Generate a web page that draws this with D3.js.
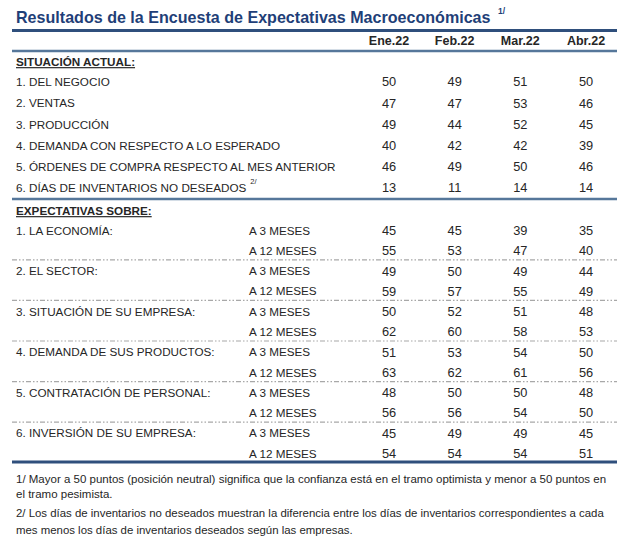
<!DOCTYPE html>
<html>
<head>
<meta charset="utf-8">
<script src="https://cdn.jsdelivr.net/npm/d3@7"></script>
<style>
  html, body { margin: 0; padding: 0; background: #fff; }
  svg { display: block; }
  text { font-family: "Liberation Sans", Arial, sans-serif; }
</style>
</head>
<body>
<script>
// ---------- DATA ----------
const title = "Resultados de la Encuesta de Expectativas Macroeconómicas";
const titleNote = "1/";
const months = ["Ene.22", "Feb.22", "Mar.22", "Abr.22"];

const sectionA = "SITUACIÓN ACTUAL:";
const situacionLabels = [
  "1. DEL NEGOCIO",
  "2. VENTAS",
  "3. PRODUCCIÓN",
  "4. DEMANDA CON RESPECTO A LO ESPERADO",
  "5. ÓRDENES DE COMPRA RESPECTO AL MES ANTERIOR",
  "6. DÍAS DE INVENTARIOS NO DESEADOS"
];
const situacionNotes = ["", "", "", "", "", "2/"];
const situacionValues = [
  [50, 49, 51, 50],
  [47, 47, 53, 46],
  [49, 44, 52, 45],
  [40, 42, 42, 39],
  [46, 49, 50, 46],
  [13, 11, 14, 14]
];

const sectionB = "EXPECTATIVAS SOBRE:";
const expectativasLabels = [
  "1. LA ECONOMÍA:",
  "2. EL SECTOR:",
  "3. SITUACIÓN DE SU EMPRESA:",
  "4. DEMANDA DE SUS PRODUCTOS:",
  "5. CONTRATACIÓN DE PERSONAL:",
  "6. INVERSIÓN DE SU EMPRESA:"
];
const horizons = ["A 3 MESES", "A 12 MESES"];
const expectativas3m = [
  [45, 45, 39, 35],
  [49, 50, 49, 44],
  [50, 52, 51, 48],
  [51, 53, 54, 50],
  [48, 50, 50, 48],
  [45, 49, 49, 45]
];
const expectativas12m = [
  [55, 53, 47, 40],
  [59, 57, 55, 49],
  [62, 60, 58, 53],
  [63, 62, 61, 56],
  [56, 56, 54, 50],
  [54, 54, 54, 51]
];

const footnotes = [
  ["1/ Mayor a 50 puntos (posición neutral) significa que la confianza está en el tramo optimista y menor a 50 puntos en",
   "el tramo pesimista."],
  ["2/ Los días de inventarios no deseados muestran la diferencia entre los días de inventarios correspondientes a cada",
   "mes menos los días de inventarios deseados según las empresas."]
];

// ---------- LAYOUT ----------
const W = 640, H = 553;
const xLeft = 12, xRight = 617, xText = 16, xHorizon = 249;
const navy = "#2f4f7c", midBlue = "#56779a", titleColor = "#1f3f78", ink = "#262626";

const svg = d3.select("body").append("svg").attr("width", W).attr("height", H);
svg.append("rect").attr("width", W).attr("height", H).attr("fill", "#fff");

const x = d3.scalePoint().domain(months).range([389, 586]);
const ySit = d3.scaleLinear().domain([0, 5]).range([82, 188]);
const yExp = d3.scaleLinear().domain([0, 11]).range([230.5, 453.5]);

// Title (fit to measured width)
const t = svg.append("text").attr("x", xText).attr("y", 23)
  .attr("font-weight", "bold").attr("font-size", 15).attr("fill", titleColor).text(title);
const tw = t.node().getComputedTextLength();
const tfs = 15 * 475 / tw;
t.attr("font-size", tfs);
svg.append("text").attr("x", xText + 475 + 7).attr("y", 14)
  .attr("font-size", 8.5).attr("font-weight", "bold").attr("fill", titleColor).text(titleNote);

// Rules
function rule(y, w, c) {
  svg.append("line").attr("x1", xLeft).attr("x2", xRight).attr("y1", y).attr("y2", y)
    .attr("stroke", c).attr("stroke-width", w);
}
rule(30.5, 3, navy);
rule(51, 2.5, midBlue);
rule(199, 2.5, midBlue);
rule(462, 3, navy);

// Header months
svg.append("g").selectAll("text").data(months).join("text")
  .attr("x", d => x(d)).attr("y", 41).attr("dy", "0.35em")
  .attr("text-anchor", "middle").attr("font-weight", "bold").attr("font-size", 12.5)
  .attr("fill", ink).text(d => d);

// Section headers
function section(label, y) {
  svg.append("text").attr("x", xText).attr("y", y).attr("dy", "0.35em")
    .attr("font-weight", "bold").attr("font-size", 11.7).attr("fill", ink)
    .attr("text-decoration", "underline").text(label);
}
section(sectionA, 62);
section(sectionB, 211);

// Situación actual rows
const gS = svg.append("g");
const sRows = gS.selectAll("g").data(situacionLabels).join("g")
  .attr("transform", (d, i) => `translate(0,${ySit(i)})`);
sRows.append("text").attr("x", xText).attr("dy", "0.35em")
  .attr("font-size", 11.7).attr("fill", ink).text(d => d)
  .each(function (d, i) {
    if (situacionNotes[i]) {
      const w = this.getComputedTextLength();
      d3.select(this.parentNode).append("text").attr("x", xText + w + 4).attr("y", -4)
        .attr("font-size", 7.5).attr("fill", ink).text(situacionNotes[i]);
    }
  });
sRows.selectAll("text.v").data((d, i) => situacionValues[i]).join("text")
  .attr("class", "v").attr("x", (v, j) => x(months[j])).attr("dy", "0.35em")
  .attr("text-anchor", "middle").attr("font-size", 12.8).attr("fill", ink).text(v => v);

// Expectativas rows
const expRows = [];
expectativasLabels.forEach((lab, i) => {
  expRows.push({ label: lab, horizon: horizons[0], values: expectativas3m[i] });
  expRows.push({ label: "", horizon: horizons[1], values: expectativas12m[i] });
});
const gE = svg.append("g");
const eRows = gE.selectAll("g").data(expRows).join("g")
  .attr("transform", (d, i) => `translate(0,${yExp(i)})`);
eRows.append("text").attr("x", xText).attr("dy", "0.35em")
  .attr("font-size", 11.7).attr("fill", ink).text(d => d.label);
eRows.append("text").attr("x", xHorizon).attr("dy", "0.35em")
  .attr("font-size", 11.7).attr("fill", ink).text(d => d.horizon);
eRows.selectAll("text.v").data(d => d.values).join("text")
  .attr("class", "v").attr("x", (v, j) => x(months[j])).attr("dy", "0.35em")
  .attr("text-anchor", "middle").attr("font-size", 12.8).attr("fill", ink).text(v => v);

// Dashed separators between groups
const seps = d3.range(1, expectativasLabels.length).map(k => (yExp(2 * k - 1) + yExp(2 * k)) / 2 - 1);
svg.append("g").selectAll("line").data(seps).join("line")
  .attr("x1", xLeft).attr("x2", xRight).attr("y1", d => d).attr("y2", d => d)
  .attr("stroke", "#a8a8a8").attr("stroke-width", 1.2)
  .attr("stroke-dasharray", "5,2,1.5,2,1.5,2");

// Footnotes
const fnY = [[479, 494], [513, 530]];
footnotes.forEach((lines, i) => {
  let fs = 11;
  lines.forEach((ln, k) => {
    const tt = svg.append("text").attr("x", xText).attr("y", fnY[i][k]).attr("dy", "0.35em")
      .attr("font-size", 11).attr("fill", ink).text(ln);
    if (k === 0) {
      const w = tt.node().getComputedTextLength();
      const target = i === 0 ? 591 : 588;
      fs = 11 * target / w;
    }
    tt.attr("font-size", fs);
  });
});
</script>
</body>
</html>
